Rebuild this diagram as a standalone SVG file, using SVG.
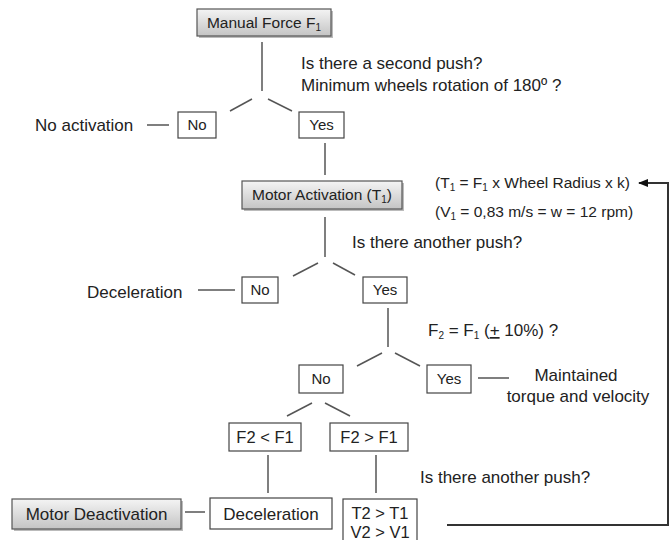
<svg xmlns="http://www.w3.org/2000/svg" width="672" height="540" viewBox="0 0 672 540">
<defs>
  <linearGradient id="gg" x1="0" y1="0" x2="0" y2="1">
    <stop offset="0" stop-color="#f4f4f4"/>
    <stop offset="1" stop-color="#c4c4c4"/>
  </linearGradient>
  <marker id="arr" markerWidth="10" markerHeight="10" refX="9" refY="5" orient="auto" markerUnits="userSpaceOnUse">
    <path d="M0,1 L10,5 L0,9 Z" fill="#111"/>
  </marker>
</defs>
<style>
  text { font-family: "Liberation Sans", Arial, sans-serif; fill: #222; }
  .lbl { font-size: 17px; }
  .bt { font-size: 15px; text-anchor: middle; }
  .box { fill: #fff; stroke: #444; stroke-width: 1.2; }
  .gbox { fill: url(#gg); stroke: #555; stroke-width: 1.2; }
  .sh { fill: #bbb; }
  .ln { stroke: #555; stroke-width: 1.5; fill: none; }
  .sub { font-size: 10px; }
</style>

<g id="connectors">
  <line class="ln" x1="262" y1="42" x2="262" y2="91"/>
  <line class="ln" x1="252" y1="99" x2="230" y2="111"/>
  <line class="ln" x1="268" y1="99" x2="292" y2="111"/>
  <line class="ln" x1="147" y1="125" x2="169" y2="125"/>
  <line class="ln" x1="325" y1="143" x2="325" y2="175"/>
  <line class="ln" x1="325" y1="217" x2="325" y2="257"/>
  <line class="ln" x1="318" y1="263" x2="293" y2="276"/>
  <line class="ln" x1="333" y1="263" x2="355" y2="275"/>
  <line class="ln" x1="198" y1="290" x2="235" y2="290"/>
  <line class="ln" x1="388" y1="308" x2="388" y2="347"/>
  <line class="ln" x1="382" y1="353" x2="357" y2="366"/>
  <line class="ln" x1="395" y1="353" x2="420" y2="366"/>
  <line class="ln" x1="478" y1="378" x2="509" y2="378"/>
  <line class="ln" x1="312" y1="403" x2="287" y2="416"/>
  <line class="ln" x1="325" y1="403" x2="350" y2="416"/>
  <line class="ln" x1="268" y1="455" x2="268" y2="493"/>
  <line class="ln" x1="376" y1="455" x2="376" y2="493"/>
  <line class="ln" x1="185" y1="512" x2="205" y2="512"/>
  <polyline points="447,525 668,525 668,183 639,183" fill="none" stroke="#333" stroke-width="2" marker-end="url(#arr)"/>
</g>

<g id="manual-force">
  <rect class="sh" x="199" y="11" width="134" height="27"/>
  <rect class="gbox" x="197" y="9" width="134" height="27"/>
  <text x="264" y="28" style="font-size:15.5px" text-anchor="middle">Manual Force F<tspan class="sub" dy="3">1</tspan></text>
</g>

<g id="q1">
  <text class="lbl" x="301" y="69">Is there a second push?</text>
  <text class="lbl" x="301" y="91">Minimum wheels rotation of 180º ?</text>
</g>

<g id="no1">
  <rect class="box" x="178" y="112" width="38" height="26"/>
  <text class="bt" x="197" y="130">No</text>
</g>
<g id="no-activation">
  <text class="lbl" x="35" y="131">No activation</text>
</g>
<g id="yes1">
  <rect class="box" x="299" y="112" width="45" height="26"/>
  <text class="bt" x="321.5" y="130">Yes</text>
</g>

<g id="motor-activation">
  <rect class="sh" x="244" y="183" width="160" height="28"/>
  <rect class="gbox" x="242" y="181" width="160" height="28"/>
  <text x="322" y="200" style="font-size:15.5px" text-anchor="middle">Motor Activation (T<tspan class="sub" dy="3">1</tspan><tspan dy="-3">)</tspan></text>
</g>

<g id="formulas">
  <text x="435" y="188" style="font-size:15.5px">(T<tspan class="sub" dy="3">1</tspan><tspan dy="-3"> = F</tspan><tspan class="sub" dy="3">1</tspan><tspan dy="-3"> x Wheel Radius x k)</tspan></text>
  <text x="435" y="217" style="font-size:15.5px">(V<tspan class="sub" dy="3">1</tspan><tspan dy="-3"> = 0,83 m/s = w = 12 rpm)</tspan></text>
</g>

<g id="q2">
  <text class="lbl" x="352" y="248">Is there another push?</text>
</g>

<g id="no2">
  <rect class="box" x="242" y="277" width="36" height="26"/>
  <text class="bt" x="260" y="295">No</text>
</g>
<g id="deceleration1">
  <text class="lbl" x="87" y="298">Deceleration</text>
</g>
<g id="yes2">
  <rect class="box" x="363" y="277" width="44" height="26"/>
  <text class="bt" x="385" y="295">Yes</text>
</g>

<g id="q3">
  <text class="lbl" x="428" y="336">F<tspan class="sub" dy="3">2</tspan><tspan dy="-3"> = F</tspan><tspan class="sub" dy="3">1</tspan><tspan dy="-3">  (</tspan><tspan text-decoration="underline">+</tspan> 10%) ?</text>
</g>

<g id="no3">
  <rect class="box" x="299" y="365" width="44" height="28"/>
  <text class="bt" x="321" y="384">No</text>
</g>
<g id="yes3">
  <rect class="box" x="427" y="365" width="44" height="28"/>
  <text class="bt" x="449" y="384">Yes</text>
</g>
<g id="maintained">
  <text class="lbl" x="576" y="381" text-anchor="middle">Maintained</text>
  <text class="lbl" x="578" y="402" text-anchor="middle">torque and velocity</text>
</g>

<g id="f2-lt-f1">
  <rect class="box" x="229" y="423" width="72" height="28"/>
  <text x="265" y="443" style="font-size:16.5px" text-anchor="middle">F2 &lt; F1</text>
</g>
<g id="f2-gt-f1">
  <rect class="box" x="330" y="423" width="78" height="28"/>
  <text x="369" y="443" style="font-size:16.5px" text-anchor="middle">F2 &gt; F1</text>
</g>

<g id="q4">
  <text class="lbl" x="420" y="483">Is there another push?</text>
</g>

<g id="motor-deactivation">
  <rect class="sh" x="14" y="501" width="169" height="30"/>
  <rect class="gbox" x="12" y="499" width="169" height="30"/>
  <text x="96.5" y="520" style="font-size:17px" text-anchor="middle">Motor Deactivation</text>
</g>
<g id="deceleration2">
  <rect class="box" x="210" y="498" width="122" height="31"/>
  <text x="271" y="520" style="font-size:17px" text-anchor="middle">Deceleration</text>
</g>
<g id="t2-v2">
  <rect class="box" x="343" y="499" width="74" height="44"/>
  <text x="380" y="519" style="font-size:16.5px" text-anchor="middle">T2 &gt; T1</text>
  <text x="380" y="538" style="font-size:16.5px" text-anchor="middle">V2 &gt; V1</text>
</g>
</svg>
